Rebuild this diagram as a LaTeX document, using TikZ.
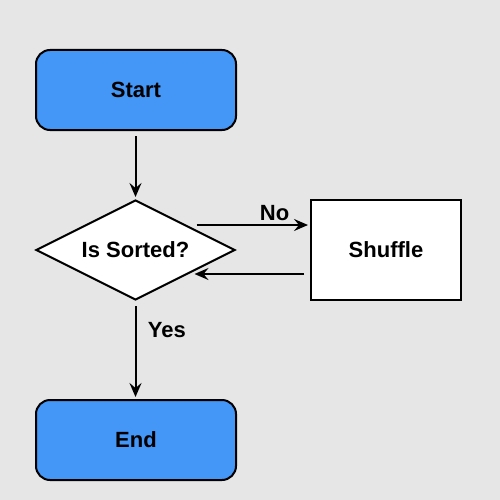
\documentclass[tikz,border=0pt]{standalone}
\usepackage{fontspec}
\newfontfamily\labfont{Liberation Sans}
\usetikzlibrary{arrows.meta,shapes.geometric}
\definecolor{bg}{HTML}{E6E6E6}
\definecolor{term}{HTML}{4496F7}
\begin{document}
\begin{tikzpicture}[x=1pt,y=-1pt,
  lab/.style={font=\labfont\bfseries\fontsize{22}{24}\selectfont, text=black},
  termbox/.style={draw=black, line width=2pt, fill=term, rounded corners=14pt,
    minimum width=200pt, minimum height=80pt, inner sep=0pt, lab},
  procbox/.style={draw=black, line width=2pt, fill=white,
    minimum width=150pt, minimum height=100pt, inner sep=0pt, lab},
  decbox/.style={draw=black, line width=2pt, fill=white, diamond, aspect=2,
    minimum width=199pt, minimum height=100pt, inner sep=0pt, lab},
  arr/.style={draw=black, line width=2pt, -{Stealth[length=14pt,width=12pt,inset=5pt]}}
]
\fill[bg] (0,0) rectangle (500,500);
\useasboundingbox (0,0) rectangle (500,500);
\node[termbox] (start) at (136,90) {Start};
\node[decbox] (dec) at (135.5,250) {Is Sorted?};
\node[procbox] (shuf) at (386,250) {Shuffle};
\node[termbox] (end) at (136,440) {End};
\draw[arr, shorten <=5pt, shorten >=2pt] (start.south -| dec.north) -- (dec.north);
\draw[arr] ([xshift=61pt,yshift=25pt]dec.center) -- ([xshift=-2pt,yshift=25pt]shuf.west)
  node[lab, pos=0.7, above=0pt] (no) {No};
\draw[arr] ([xshift=-6pt,yshift=-24pt]shuf.west) -- ([xshift=59pt,yshift=-24pt]dec.center);
\draw[arr, shorten <=5pt, shorten >=2pt] (dec.south) -- (end.north -| dec.south)
  node[lab, pos=0.3, right=8pt] (yes) {Yes};
\end{tikzpicture}
\end{document}
